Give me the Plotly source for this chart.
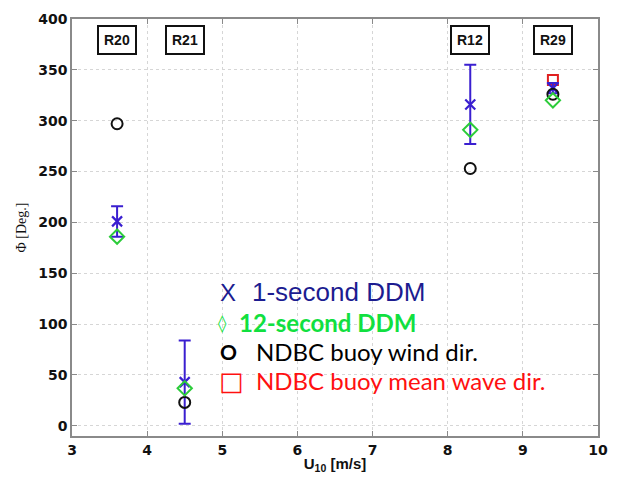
import plotly.graph_objects as go

# Flight segments and 10 m wind speed
runs = ["R20", "R21", "R12", "R29"]
u10 = [3.6, 4.5, 8.3, 9.4]

# Retrieved / reference directions [deg]
phi_1s = [201, 43, 316, 332]
phi_1s_err = [15, 41, 39, 5]
phi_12s = [186, 37, 291, 320]
ndbc_wind = [297, 23, 253, 326]
ndbc_wave_x = [9.4]
ndbc_wave = [340]

# Axis ticks
x_ticks = [3, 4, 5, 6, 7, 8, 9, 10]
y_ticks = [0, 50, 100, 150, 200, 250, 300, 350, 400]

BLUE = "#3a1fd0"
GREEN = "#2ccc3a"

fig = go.Figure()

fig.add_trace(go.Scatter(
    x=ndbc_wave_x, y=ndbc_wave, mode="markers",
    marker=dict(symbol="square-open", size=10, color="#e02020",
                line=dict(width=2, color="#e02020")),
    showlegend=False))

fig.add_trace(go.Scatter(
    x=u10, y=phi_1s, mode="markers",
    marker=dict(symbol="x-thin-open", size=10, color=BLUE,
                line=dict(width=2.2, color=BLUE)),
    error_y=dict(type="data", array=phi_1s_err, color=BLUE,
                 thickness=2, width=6),
    showlegend=False))

fig.add_trace(go.Scatter(
    x=u10, y=ndbc_wind, mode="markers",
    marker=dict(symbol="circle-open", size=11, color="#111111",
                line=dict(width=2, color="#111111")),
    showlegend=False))

fig.add_trace(go.Scatter(
    x=u10, y=phi_12s, mode="markers",
    marker=dict(symbol="diamond-open", size=11, color=GREEN,
                line=dict(width=2, color=GREEN)),
    showlegend=False))

# Run labels in boxes along the top
for r, xv in zip(runs, u10):
    fig.add_annotation(
        x=xv, y=379, xref="x", yref="y", text="<b>%s</b>" % r,
        showarrow=False, font=dict(family="Liberation Sans", size=14, color="#111"),
        bordercolor="#111", borderwidth=2, borderpad=5, bgcolor="white")

# Hand-built key
L, R, T, B = 72, 608, 18, 441


def px(xp):
    return (xp - L) / (R - L)


def py(yp):
    return (B - yp) / (B - T)


# (symbol, symbol font, symbol size, label, font, size, colour, symbol x, label x, y)
key_rows = [
    ("X", "Liberation Sans", 24, "1-second DDM", "Liberation Sans", 26, "#1c1c90", 221, 253, 295),
    ("◊", "DejaVu Sans", 17, "<b>12-second DDM</b>", "Lato", 24, "#11e040", 219, 240, 326),
    ("<b>O</b>", "Lato", 21, "NDBC buoy wind dir.", "Lato", 24, "#000000", 221, 257, 355),
    ("□", "DejaVu Sans", 26, "NDBC buoy mean wave dir.", "Lato", 24, "#ff1010", 220, 257, 385),
]
for sym, sfam, ssize, txt, fam, size, col, xs, xt, yp in key_rows:
    fig.add_annotation(
        x=px(xs), y=py(yp), xref="paper", yref="paper", text=sym,
        xanchor="left", yanchor="middle", showarrow=False,
        font=dict(family=sfam, size=ssize, color=col))
    fig.add_annotation(
        x=px(xt), y=py(yp), xref="paper", yref="paper", text=txt,
        xanchor="left", yanchor="middle", showarrow=False,
        font=dict(family=fam, size=size, color=col))

axis_common = dict(
    showline=True, linecolor="#8a8a8a", linewidth=1.5, mirror="ticks",
    ticks="inside", ticklen=5, tickcolor="#8a8a8a",
    showgrid=True, gridcolor="#d6d6d6", griddash="dot", gridwidth=1,
    zeroline=False,
    tickfont=dict(family="DejaVu Sans", size=14, color="#111", weight=700),
)

fig.update_xaxes(range=[3, 10], tickvals=x_ticks, **axis_common,
                 title=dict(text="<b>U<sub>10</sub> [m/s]</b>", standoff=2,
                            font=dict(family="Liberation Sans", size=15, color="#111")))
fig.update_yaxes(range=[-10, 400], tickvals=y_ticks, **axis_common,
                 title=dict(text="Φ [Deg.]", standoff=8,
                            font=dict(family="Liberation Serif", size=14, color="#111")))

fig.update_layout(
    width=619, height=481,
    margin=dict(l=L, r=619 - R, t=T, b=481 - B),
    paper_bgcolor="white", plot_bgcolor="white",
)

fig.write_html("out.html")
